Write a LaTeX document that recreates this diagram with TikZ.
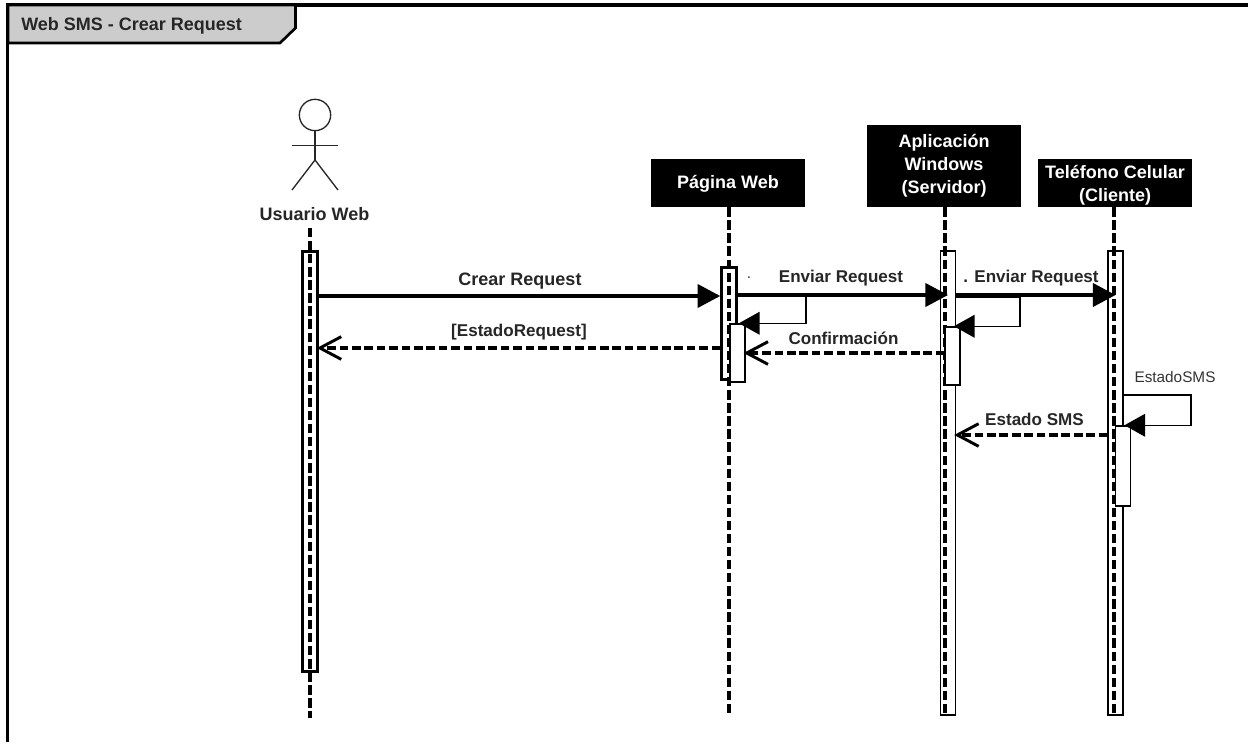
\documentclass[tikz,border=0pt]{standalone}
\usepackage{fontspec}
\setmainfont{Liberation Sans}
\usetikzlibrary{arrows.meta}
\tikzset{
 lbl/.style={font=\fontsize{13.5}{16}\selectfont\bfseries,text=black!85,inner sep=0pt},
 msglbl/.style={font=\fontsize{12.8}{15}\selectfont\bfseries,text=black!85,inner sep=0pt},
 lblthin/.style={font=\fontsize{11.5}{13}\selectfont,text=black!80,inner sep=0pt},
 head/.style={fill=black,text=white,font=\fontsize{13.5}{17.25}\selectfont\bfseries,align=center,inner sep=0pt},
 life/.style={line width=2.3pt,dash pattern=on 7pt off 2.8pt},
 actthick/.style={draw=black,line width=2.2pt,fill=white,inner sep=0pt},
 actthin/.style={draw=black,line width=1.1pt,inner sep=0pt},
 actfill/.style={draw=black,line width=1.1pt,fill=white,inner sep=0pt},
 msg/.style={line width=2.3pt,-{Triangle[length=17pt,width=17.5pt]}},
 self/.style={line width=1.1pt,shorten >=-5pt,-{Triangle[length=15.5pt,width=17pt]}},
 ret/.style={line width=2.3pt,dash pattern=on 6.5pt off 2.8pt,shorten >=-1.5pt,-{Straight Barb[length=16pt,width=17pt,line width=2.2pt]}},
 actor/.style={line width=1pt,draw=black!85},
}
\begin{document}
\begin{tikzpicture}[x=.75pt,y=-.75pt]
\useasboundingbox (0,0) rectangle (1248,742);
% frame
\draw[line width=2.6pt] (7.5,742) -- (7.5,5) -- (1248,5);
\fill[black!20,draw=black,line width=2pt] (8,5) -- (295.5,5) -- (295.5,28) -- (280,43) -- (8,43) -- cycle;
\node[lbl,anchor=west] (title) at (21,25.5) {Web SMS - Crear Request};
% heads
\node[head,minimum width=115.5pt,minimum height=36pt] (hweb) at (728,183) {\rule{0pt}{11.5pt}Página Web};
\node[head,minimum width=115.5pt,minimum height=61.5pt] (happ) at (944,166) {Aplicación\\Windows\\(Servidor)};
\node[head,minimum width=115.5pt,minimum height=36pt] (hcel) at (1115,183) {\rule{0pt}{13pt}Teléfono Celular\\(Cliente)};
% actor
\node[circle,draw=black!85,line width=1pt,minimum size=23.5pt,inner sep=0pt] (ahead) at (315,115) {};
\coordinate (acl) at (315,160);
\draw[actor] (ahead.south) -- (acl);
\draw[actor] (292,145.5) -- (338,145.5);
\draw[actor] (292,190) -- (acl) -- (338,190);
\node[lbl,anchor=center] (auser) at (314.5,214) {Usuario Web};
% coordinates for lifeline ends
\coordinate (uTop) at (310,228);\coordinate (uEnd) at (310,718);
\coordinate (wEnd) at (729,715);\coordinate (aEnd) at (945,715);\coordinate (cEnd) at (1114,715);
% activations underlay
\node[actthick,minimum width=11pt,minimum height=315.5pt] (au) at (310,461.5) {};
\node[actthick,minimum width=11pt,minimum height=84.5pt] (aw) at (729,323.5) {};
\node[actthin,minimum width=11.2pt,minimum height=348pt] (aa) at (948,483) {};
\node[actthin,minimum width=11.2pt,minimum height=348pt] (ac) at (1115.5,483) {};
% lifelines
\draw[life] (uTop) -- (uEnd);
\draw[life] (hweb.south -| wEnd) -- (wEnd);
\draw[life] (happ.south -| aEnd) -- (aEnd);
\draw[life] (hcel.south -| cEnd) -- (cEnd);
% nested activations
\node[actfill,minimum width=11pt,minimum height=43.5pt] (aw2) at (737.5,353) {};
\node[actfill,minimum width=11pt,minimum height=43.5pt] (aa2) at (952.5,356) {};
\node[actfill,minimum width=11pt,minimum height=60pt] (ac2) at (1123,466) {};
% messages
\draw[msg] (au.east |- 0,296) -- (aw.west |- 0,296);
\node[lbl] (m1) at (520,281) {Crear Request};
\draw[msg] (aw.east |- 0,295) -- (aa.center |- 0,295);
\node[msglbl] (m2) at (841,278) {Enviar Request};
\node[lblthin] (d2) at (749,278) {.};
\draw[msg] (aa.east |- 0,295) -- (ac.center |- 0,295);
\node[msglbl] (m3) at (1031,278) {. Enviar Request};
% self messages
\coordinate (s1) at (806,296);\coordinate (s2) at (1020,297);\coordinate (s3) at (1191,395);
\draw[self] (aw.east |- s1) -- (s1) -- (s1 |- aw2.north) -- (aw2.north east);
\draw[self] (aa.east |- s2) -- (s2) -- (s2 |- aa2.north) -- (aa2.north east);
\draw[self] (ac.east |- s3) -- (s3) -- (s3 |- ac2.north) -- (ac2.north east);
\node[lblthin] (s3l) at (1175,377) {EstadoSMS};
% returns
\draw[ret] (aw.west |- 0,348) -- (au.east |- 0,348);
\node[msglbl] (r1) at (519,332) {[EstadoRequest]};
\draw[ret] (aa2.west |- 0,353) -- (aw2.east |- 0,353);
\node[msglbl] (r2) at (843.5,338) {Confirmación};
\draw[ret] (ac.west |- 0,435) -- (aa.east |- 0,435);
\node[msglbl] (r3) at (1034.5,419) {Estado SMS};
\end{tikzpicture}
\end{document}
